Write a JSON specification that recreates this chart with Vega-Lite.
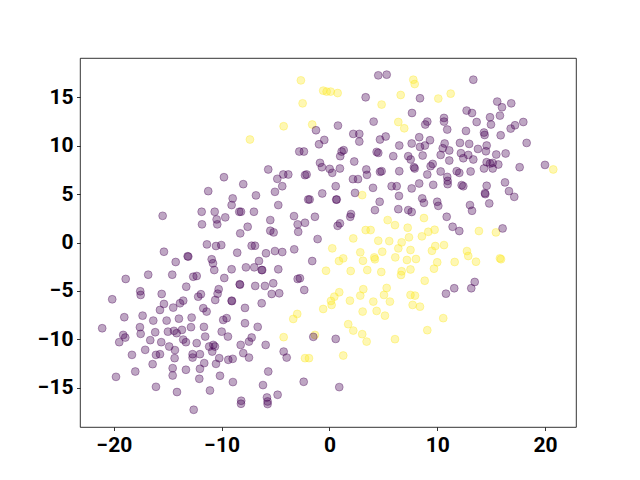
{
  "$schema": "https://vega.github.io/schema/vega-lite/v6.json",
  "width": 496,
  "height": 369,
  "autosize": {"type": "none"},
  "padding": {"left": 80, "top": 58, "right": 64, "bottom": 53},
  "background": "white",
  "config": {
    "view": {"stroke": "black", "strokeWidth": 0.8},
    "axis": {
      "grid": false, "domain": false, "ticks": true, "tickColor": "black", "tickWidth": 0.8, "tickSize": 3.5,
      "labelFont": "Roboto", "labelFontWeight": "bold", "labelFontSize": 21, "labelColor": "black", "labelPadding": 3.5,
      "title": null
    }
  },
  "data": {"values": [
    {"x":-2.65,"y":16.75,"g":1},{"x":-0.58,"y":15.69,"g":1},{"x":-0.26,"y":15.59,"g":1},{"x":0.11,"y":15.59,"g":1},{"x":0.76,"y":15.44,"g":1},
    {"x":-2.49,"y":14.38,"g":1},{"x":-4.25,"y":12.01,"g":1},{"x":-1.60,"y":12.19,"g":1},{"x":-7.38,"y":10.64,"g":1},{"x":6.61,"y":15.24,"g":1},
    {"x":4.84,"y":14.25,"g":1},{"x":6.39,"y":12.45,"g":1},{"x":6.94,"y":11.80,"g":1},{"x":7.78,"y":16.82,"g":1},{"x":7.91,"y":16.37,"g":1},
    {"x":10.10,"y":14.87,"g":1},{"x":11.25,"y":15.38,"g":1},{"x":20.77,"y":7.55,"g":1},
    {"x":-2.99,"y":-7.37,"g":1},{"x":-3.36,"y":-7.89,"g":1},{"x":-0.58,"y":-6.86,"g":1},{"x":0.20,"y":-6.44,"g":1},{"x":3.08,"y":-7.13,"g":1},
    {"x":4.38,"y":-7.06,"g":1},{"x":5.15,"y":-7.55,"g":1},{"x":1.74,"y":-8.43,"g":1},{"x":2.21,"y":-9.09,"g":1},{"x":3.04,"y":-9.46,"g":1},
    {"x":3.45,"y":-10.23,"g":1},{"x":6.08,"y":-9.98,"g":1},{"x":-4.25,"y":-9.77,"g":1},{"x":-1.35,"y":-9.54,"g":1},{"x":-2.27,"y":-11.94,"g":1},
    {"x":-1.90,"y":-11.94,"g":1},{"x":1.28,"y":-11.67,"g":1},
    {"x":7.72,"y":-6.44,"g":1},{"x":8.40,"y":-6.62,"g":1},{"x":10.56,"y":-7.81,"g":1},{"x":9.08,"y":-9.05,"g":1},
    {"x":3.04,"y":4.90,"g":1},{"x":5.40,"y":2.32,"g":1},{"x":6.08,"y":1.80,"g":1},{"x":3.36,"y":1.29,"g":1},{"x":3.82,"y":1.29,"g":1},
    {"x":7.26,"y":1.53,"g":1},{"x":2.21,"y":0.43,"g":1},{"x":4.53,"y":0.19,"g":1},{"x":5.55,"y":0.15,"g":1},{"x":6.70,"y":0.02,"g":1},
    {"x":7.38,"y":0.54,"g":1},{"x":0.26,"y":-0.60,"g":1},{"x":2.86,"y":-1.01,"g":1},{"x":4.90,"y":-0.95,"g":1},{"x":6.39,"y":-0.60,"g":1},
    {"x":7.52,"y":-0.77,"g":1},{"x":1.28,"y":-1.63,"g":1},{"x":0.88,"y":-1.91,"g":1},{"x":3.11,"y":-1.88,"g":1},{"x":4.16,"y":-1.53,"g":1},
    {"x":4.22,"y":-1.73,"g":1},{"x":6.11,"y":-1.53,"g":1},{"x":-0.32,"y":-2.91,"g":1},{"x":1.97,"y":-2.94,"g":1},{"x":3.51,"y":-2.84,"g":1},
    {"x":4.81,"y":-3.04,"g":1},{"x":6.70,"y":-2.97,"g":1},{"x":6.64,"y":-3.35,"g":1},{"x":7.52,"y":-2.78,"g":1},{"x":0.91,"y":-5.13,"g":1},
    {"x":0.45,"y":-5.59,"g":1},{"x":0.14,"y":-6.03,"g":1},{"x":3.14,"y":-4.82,"g":1},{"x":2.86,"y":-5.48,"g":1},{"x":1.90,"y":-6.00,"g":1},
    {"x":5.31,"y":-4.69,"g":1},{"x":5.06,"y":-5.41,"g":1},{"x":4.07,"y":-6.10,"g":1},{"x":5.61,"y":-6.10,"g":1},{"x":7.52,"y":-5.41,"g":1},
    {"x":7.19,"y":-1.80,"g":1},
    {"x":8.77,"y":2.53,"g":1},{"x":9.17,"y":1.11,"g":1},{"x":9.76,"y":1.32,"g":1},{"x":8.58,"y":0.64,"g":1},{"x":13.87,"y":1.19,"g":1},
    {"x":15.45,"y":1.05,"g":1},{"x":10.63,"y":-0.26,"g":1},{"x":9.82,"y":-0.36,"g":1},{"x":9.51,"y":-0.85,"g":1},{"x":8.03,"y":-1.70,"g":1},
    {"x":12.76,"y":-0.88,"g":1},{"x":12.88,"y":-1.39,"g":1},{"x":13.60,"y":-1.98,"g":1},{"x":15.82,"y":-1.63,"g":1},{"x":15.92,"y":-1.72,"g":1},
    {"x":11.62,"y":-2.01,"g":1},{"x":10.00,"y":-2.04,"g":1},{"x":9.70,"y":-2.70,"g":1},{"x":8.84,"y":-3.94,"g":1},{"x":7.94,"y":-5.48,"g":1},

    {"x":4.53,"y":17.27,"g":0},{"x":5.31,"y":17.34,"g":0},{"x":3.36,"y":15.0,"g":0},{"x":4.10,"y":12.49,"g":0},{"x":0.79,"y":12.08,"g":0},
    {"x":-1.25,"y":11.60,"g":0},{"x":-0.48,"y":10.60,"g":0},{"x":-0.97,"y":10.15,"g":0},{"x":2.21,"y":11.22,"g":0},{"x":2.77,"y":11.22,"g":0},
    {"x":2.77,"y":10.43,"g":0},{"x":1.32,"y":9.54,"g":0},{"x":1.13,"y":9.40,"g":0},{"x":1.00,"y":8.92,"g":0},{"x":-2.80,"y":9.40,"g":0},
    {"x":-2.37,"y":9.40,"g":0},{"x":-0.88,"y":8.23,"g":0},{"x":-0.70,"y":7.78,"g":0},{"x":0.02,"y":7.61,"g":0},{"x":0.26,"y":7.20,"g":0},
    {"x":0.97,"y":7.65,"g":0},{"x":2.30,"y":8.37,"g":0},{"x":3.42,"y":7.55,"g":0},{"x":3.48,"y":6.99,"g":0},{"x":4.38,"y":9.36,"g":0},
    {"x":4.53,"y":9.26,"g":0},{"x":4.69,"y":10.64,"g":0},{"x":5.22,"y":10.95,"g":0},{"x":5.92,"y":8.92,"g":0},{"x":6.48,"y":10.02,"g":0},
    {"x":6.48,"y":7.37,"g":0},{"x":4.69,"y":7.30,"g":0},{"x":4.84,"y":7.37,"g":0},{"x":7.31,"y":8.92,"g":0},{"x":-5.68,"y":7.55,"g":0},
    {"x":-4.84,"y":6.58,"g":0},{"x":-4.29,"y":7.03,"g":0},{"x":-3.82,"y":7.03,"g":0},{"x":-2.27,"y":6.96,"g":0},{"x":-2.12,"y":7.03,"g":0},
    {"x":2.18,"y":6.55,"g":0},{"x":2.65,"y":6.55,"g":0},
    {"x":13.35,"y":16.82,"g":0},{"x":8.40,"y":14.90,"g":0},{"x":7.66,"y":13.38,"g":0},{"x":12.73,"y":13.63,"g":0},{"x":13.23,"y":13.38,"g":0},
    {"x":15.57,"y":14.56,"g":0},{"x":16.01,"y":13.97,"g":0},{"x":16.87,"y":14.38,"g":0},{"x":15.82,"y":13.11,"g":0},{"x":14.90,"y":12.94,"g":0},
    {"x":14.99,"y":12.19,"g":0},{"x":17.99,"y":12.45,"g":0},{"x":17.22,"y":12.11,"g":0},{"x":16.82,"y":11.77,"g":0},{"x":13.66,"y":12.45,"g":0},
    {"x":10.63,"y":12.87,"g":0},{"x":10.63,"y":12.49,"g":0},{"x":10.93,"y":11.67,"g":0},{"x":9.08,"y":12.49,"g":0},{"x":8.89,"y":12.19,"g":0},
    {"x":12.67,"y":11.53,"g":0},{"x":14.34,"y":11.36,"g":0},{"x":14.40,"y":11.11,"g":0},{"x":15.89,"y":11.08,"g":0},{"x":8.33,"y":10.88,"g":0},
    {"x":9.33,"y":10.57,"g":0},{"x":7.63,"y":10.23,"g":0},{"x":8.40,"y":9.88,"g":0},{"x":8.86,"y":10.02,"g":0},{"x":12.11,"y":10.29,"g":0},
    {"x":12.97,"y":10.19,"g":0},{"x":10.69,"y":10.23,"g":0},{"x":10.51,"y":9.74,"g":0},{"x":11.12,"y":9.51,"g":0},{"x":13.78,"y":9.67,"g":0},
    {"x":14.59,"y":10.02,"g":0},{"x":14.52,"y":9.43,"g":0},{"x":18.30,"y":10.29,"g":0},{"x":15.48,"y":9.09,"g":0},{"x":16.35,"y":9.20,"g":0},
    {"x":8.65,"y":8.99,"g":0},{"x":10.32,"y":9.05,"g":0},{"x":12.20,"y":9.23,"g":0},{"x":12.42,"y":8.71,"g":0},{"x":12.88,"y":9.05,"g":0},
    {"x":13.35,"y":8.58,"g":0},{"x":7.54,"y":8.58,"g":0},{"x":14.59,"y":8.30,"g":0},{"x":14.90,"y":8.16,"g":0},{"x":15.15,"y":8.23,"g":0},
    {"x":15.67,"y":8.06,"g":0},{"x":14.34,"y":7.65,"g":0},{"x":15.15,"y":7.65,"g":0},{"x":17.65,"y":7.78,"g":0},{"x":20.0,"y":8.02,"g":0},
    {"x":9.58,"y":8.12,"g":0},{"x":9.39,"y":7.89,"g":0},{"x":7.84,"y":7.78,"g":0},{"x":7.91,"y":7.65,"g":0},{"x":11.12,"y":8.47,"g":0},
    {"x":10.32,"y":7.34,"g":0},{"x":11.81,"y":7.37,"g":0},{"x":12.05,"y":7.20,"g":0},{"x":13.10,"y":7.34,"g":0},{"x":9.08,"y":7.03,"g":0},
    {"x":10.93,"y":6.78,"g":0},
    {"x":-9.79,"y":6.75,"g":0},{"x":-11.25,"y":5.31,"g":0},{"x":-8.98,"y":4.56,"g":0},{"x":-9.08,"y":3.87,"g":0},{"x":-8.37,"y":3.18,"g":0},
    {"x":-8.21,"y":3.18,"g":0},{"x":-8.0,"y":6.03,"g":0},{"x":-15.48,"y":2.76,"g":0},{"x":-11.86,"y":3.18,"g":0},{"x":-10.65,"y":3.18,"g":0},
    {"x":-10.47,"y":2.39,"g":0},{"x":-10.41,"y":1.88,"g":0},{"x":-9.67,"y":2.60,"g":0},{"x":-11.83,"y":1.88,"g":0},{"x":-8.28,"y":0.95,"g":0},
    {"x":-11.37,"y":-0.19,"g":0},{"x":-10.53,"y":-0.36,"g":0},{"x":-10.04,"y":-0.26,"g":0},{"x":-15.36,"y":-0.95,"g":0},{"x":-13.16,"y":-1.42,"g":0},
    {"x":-13.1,"y":-1.45,"g":0},{"x":-14.27,"y":-2.01,"g":0},{"x":-10.93,"y":-1.73,"g":0},{"x":-10.81,"y":-2.14,"g":0},{"x":-10.69,"y":-2.84,"g":0},
    {"x":-8.56,"y":-1.05,"g":0},{"x":-9.08,"y":-2.76,"g":0},{"x":-7.75,"y":-2.56,"g":0},{"x":-16.82,"y":-3.32,"g":0},{"x":-14.59,"y":-3.32,"g":0},
    {"x":-12.64,"y":-3.53,"g":0},{"x":-12.32,"y":-3.45,"g":0},{"x":-18.91,"y":-3.76,"g":0},{"x":-9.76,"y":-3.66,"g":0},{"x":-8.33,"y":-4.31,"g":0},
    {"x":-8.30,"y":-4.35,"g":0},{"x":-13.29,"y":-4.56,"g":0},{"x":-10.28,"y":-4.82,"g":0},{"x":-10.38,"y":-5.28,"g":0},{"x":-17.56,"y":-5.03,"g":0},
    {"x":-17.52,"y":-5.41,"g":0},{"x":-15.57,"y":-5.31,"g":0},{"x":-12.18,"y":-5.59,"g":0},{"x":-11.93,"y":-5.34,"g":0},{"x":-13.57,"y":-6.0,"g":0},
    {"x":-13.87,"y":-6.27,"g":0},{"x":-20.16,"y":-5.86,"g":0},{"x":-10.60,"y":-5.93,"g":0},{"x":-9.08,"y":-6.0,"g":0},{"x":-9.05,"y":-6.05,"g":0},
    {"x":-15.36,"y":-6.34,"g":0},
    {"x":-21.09,"y":-8.85,"g":0},{"x":-19.04,"y":-7.71,"g":0},{"x":-17.34,"y":-7.55,"g":0},{"x":-15.73,"y":-6.96,"g":0},{"x":-14.50,"y":-6.72,"g":0},
    {"x":-16.35,"y":-8.06,"g":0},{"x":-15.11,"y":-8.06,"g":0},{"x":-13.97,"y":-7.86,"g":0},{"x":-12.79,"y":-7.75,"g":0},{"x":-11.71,"y":-6.78,"g":0},
    {"x":-11.40,"y":-7.13,"g":0},{"x":-9.86,"y":-7.99,"g":0},{"x":-9.54,"y":-7.81,"g":0},{"x":-17.59,"y":-8.74,"g":0},{"x":-17.52,"y":-9.43,"g":0},
    {"x":-19.14,"y":-9.54,"g":0},{"x":-18.95,"y":-9.81,"g":0},{"x":-19.51,"y":-10.29,"g":0},{"x":-16.17,"y":-9.26,"g":0},{"x":-14.99,"y":-9.20,"g":0},
    {"x":-14.43,"y":-9.12,"g":0},{"x":-14.18,"y":-9.36,"g":0},{"x":-13.69,"y":-9.02,"g":0},{"x":-12.85,"y":-8.74,"g":0},{"x":-11.65,"y":-8.71,"g":0},
    {"x":-10.0,"y":-9.20,"g":0},{"x":-9.42,"y":-9.71,"g":0},{"x":-11.53,"y":-9.71,"g":0},{"x":-16.63,"y":-10.08,"g":0},{"x":-15.61,"y":-10.29,"g":0},
    {"x":-13.57,"y":-10.02,"g":0},{"x":-13.32,"y":-10.29,"g":0},{"x":-12.32,"y":-10.39,"g":0},{"x":-14.87,"y":-10.74,"g":0},{"x":-14.34,"y":-11.11,"g":0},
    {"x":-11.16,"y":-10.74,"g":0},{"x":-10.78,"y":-10.57,"g":0},{"x":-10.63,"y":-10.74,"g":0},{"x":-17.10,"y":-11.08,"g":0},{"x":-18.33,"y":-11.60,"g":0},
    {"x":-16.10,"y":-11.60,"g":0},{"x":-15.73,"y":-11.53,"g":0},{"x":-14.37,"y":-11.94,"g":0},{"x":-12.70,"y":-11.53,"g":0},{"x":-12.70,"y":-11.88,"g":0},
    {"x":-12.02,"y":-11.53,"g":0},{"x":-10.88,"y":-11.26,"g":0},{"x":-10.23,"y":-11.94,"g":0},{"x":-9.39,"y":-12.11,"g":0},{"x":-8.98,"y":-12.01,"g":0},
    {"x":-8.24,"y":-10.57,"g":0},{"x":-8.0,"y":-11.42,"g":0},{"x":-16.41,"y":-12.56,"g":0},{"x":-11.62,"y":-12.45,"g":0},{"x":-10.53,"y":-12.53,"g":0},
    {"x":-18.02,"y":-13.32,"g":0},{"x":-19.81,"y":-13.87,"g":0},{"x":-14.55,"y":-12.97,"g":0},{"x":-14.55,"y":-13.73,"g":0},{"x":-13.32,"y":-13.14,"g":0},
    {"x":-12.02,"y":-13.04,"g":0},{"x":-12.08,"y":-14.07,"g":0},{"x":-10.16,"y":-13.76,"g":0},{"x":-8.96,"y":-14.41,"g":0},{"x":-16.10,"y":-14.90,"g":0},
    {"x":-14.15,"y":-15.44,"g":0},{"x":-11.09,"y":-15.28,"g":0},{"x":-8.19,"y":-16.34,"g":0},{"x":-12.60,"y":-17.27,"g":0},
    {"x":-7.84,"y":-6.75,"g":0},{"x":-7.84,"y":-8.33,"g":0},{"x":-6.66,"y":-8.71,"g":0},{"x":-7.22,"y":-9.81,"g":0},{"x":-7.47,"y":-10.23,"g":0},
    {"x":-5.92,"y":-10.57,"g":0},{"x":-4.25,"y":-11.26,"g":0},{"x":-3.97,"y":-11.88,"g":0},{"x":-7.47,"y":-11.88,"g":0},{"x":-1.50,"y":-9.74,"g":0},
    {"x":0.58,"y":-9.95,"g":0},{"x":-5.68,"y":-13.32,"g":0},{"x":-6.17,"y":-14.72,"g":0},{"x":-2.39,"y":-14.38,"g":0},{"x":0.91,"y":-14.93,"g":0},
    {"x":-4.81,"y":-15.72,"g":0},{"x":-5.80,"y":-16.0,"g":0},{"x":-5.74,"y":-16.41,"g":0},{"x":-5.74,"y":-16.68,"g":0},{"x":-8.21,"y":-16.65,"g":0},
    {"x":-6.82,"y":4.87,"g":0},{"x":-5.06,"y":5.24,"g":0},{"x":-4.38,"y":5.82,"g":0},{"x":-4.75,"y":3.87,"g":0},{"x":-7.01,"y":3.18,"g":0},
    {"x":-1.97,"y":4.45,"g":0},{"x":-1.84,"y":4.45,"g":0},{"x":-0.67,"y":5.07,"g":0},{"x":0.58,"y":5.82,"g":0},{"x":0.67,"y":4.45,"g":0},
    {"x":0.63,"y":4.43,"g":0},{"x":2.37,"y":5.13,"g":0},{"x":4.04,"y":5.65,"g":0},{"x":5.77,"y":5.82,"g":0},{"x":6.24,"y":5.82,"g":0},
    {"x":6.45,"y":4.82,"g":0},{"x":4.66,"y":4.21,"g":0},{"x":4.22,"y":3.35,"g":0},{"x":6.39,"y":3.45,"g":0},{"x":7.31,"y":3.35,"g":0},
    {"x":7.63,"y":3.16,"g":0},{"x":2.0,"y":2.94,"g":0},{"x":1.93,"y":2.66,"g":0},{"x":0.97,"y":1.98,"g":0},{"x":0.76,"y":1.73,"g":0},
    {"x":-3.29,"y":2.73,"g":0},{"x":-2.95,"y":1.88,"g":0},{"x":-2.90,"y":1.11,"g":0},{"x":-2.27,"y":2.04,"g":0},{"x":-1.35,"y":2.66,"g":0},
    {"x":-5.49,"y":2.32,"g":0},{"x":-5.49,"y":1.22,"g":0},{"x":-5.18,"y":1.05,"g":0},{"x":-7.59,"y":1.63,"g":0},{"x":-7.22,"y":-0.33,"g":0},
    {"x":-6.91,"y":-0.33,"g":0},{"x":-1.10,"y":0.36,"g":0},{"x":-3.27,"y":-0.70,"g":0},{"x":-5.89,"y":-1.11,"g":0},{"x":-5.06,"y":-0.88,"g":0},
    {"x":-4.38,"y":-0.98,"g":0},{"x":-6.54,"y":-1.91,"g":0},{"x":-6.98,"y":-2.56,"g":0},{"x":-6.29,"y":-2.84,"g":0},{"x":-6.24,"y":-2.84,"g":0},
    {"x":-4.75,"y":-2.76,"g":0},{"x":-1.60,"y":-1.91,"g":0},{"x":-2.95,"y":-3.76,"g":0},{"x":-2.74,"y":-3.69,"g":0},{"x":-6.89,"y":-4.48,"g":0},
    {"x":-5.99,"y":-4.48,"g":0},{"x":-5.22,"y":-4.21,"g":0},{"x":-4.66,"y":-5.24,"g":0},{"x":-5.36,"y":-5.31,"g":0},{"x":-2.34,"y":-4.90,"g":0},
    {"x":-6.29,"y":-6.27,"g":0},
    {"x":8.33,"y":6.10,"g":0},{"x":9.63,"y":5.96,"g":0},{"x":10.97,"y":6.03,"g":0},{"x":10.97,"y":6.37,"g":0},{"x":12.27,"y":5.93,"g":0},
    {"x":12.42,"y":5.82,"g":0},{"x":14.59,"y":5.86,"g":0},{"x":14.46,"y":5.0,"g":0},{"x":14.43,"y":5.10,"g":0},{"x":16.29,"y":6.21,"g":0},
    {"x":16.66,"y":5.31,"g":0},{"x":17.15,"y":4.72,"g":0},{"x":14.83,"y":4.04,"g":0},{"x":7.63,"y":5.59,"g":0},{"x":8.61,"y":4.56,"g":0},
    {"x":8.77,"y":4.10,"g":0},{"x":10.0,"y":4.21,"g":0},{"x":10.10,"y":3.79,"g":0},{"x":13.04,"y":3.87,"g":0},{"x":13.23,"y":3.28,"g":0},
    {"x":10.88,"y":2.66,"g":0},{"x":11.43,"y":1.63,"g":0},{"x":12.05,"y":1.19,"g":0},{"x":16.07,"y":1.46,"g":0},{"x":13.48,"y":-4.07,"g":0},
    {"x":13.16,"y":-4.72,"g":0},{"x":11.58,"y":-4.72,"g":0},{"x":10.81,"y":-5.28,"g":0}
  ]},
  "mark": {"type": "circle", "size": 62, "fillOpacity": 0.35, "strokeOpacity": 0.35, "strokeWidth": 1.0, "opacity": 1},
  "encoding": {
    "x": {"field": "x", "type": "quantitative", "scale": {"domain": [-23.15, 22.88], "nice": false, "zero": false},
          "axis": {"values": [-20, -10, 0, 10, 20], "format": "d"}},
    "y": {"field": "y", "type": "quantitative", "scale": {"domain": [-19.05, 19.06], "nice": false, "zero": false},
          "axis": {"values": [-15, -10, -5, 0, 5, 10, 15], "format": "d"}},
    "color": {"field": "g", "type": "nominal", "scale": {"domain": [0, 1], "range": ["#440154", "#fde725"]}, "legend": null},
    "stroke": {"field": "g", "type": "nominal", "scale": {"domain": [0, 1], "range": ["#440154", "#fde725"]}, "legend": null}
  }
}
